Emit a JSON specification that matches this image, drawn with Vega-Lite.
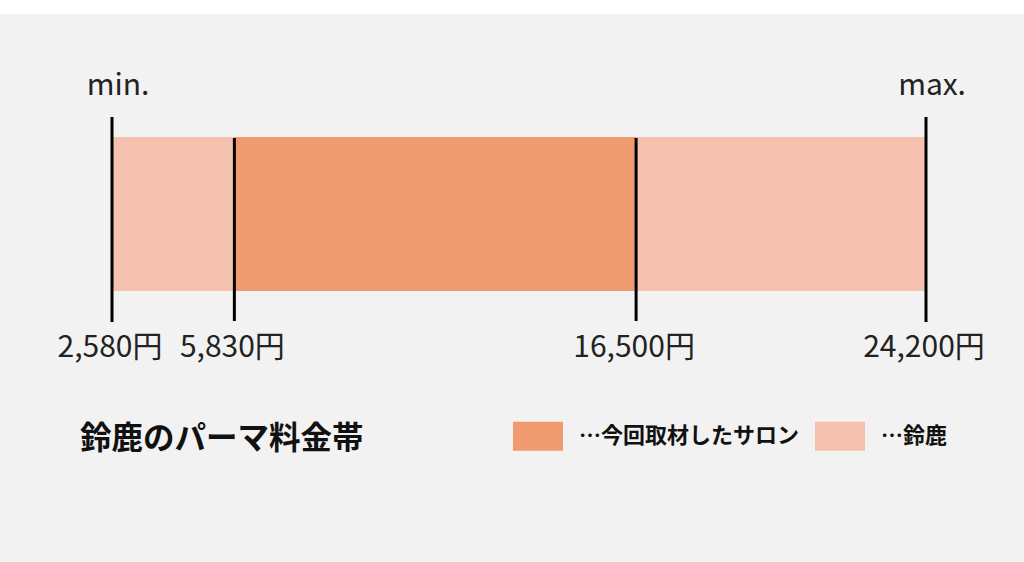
{
  "$schema": "https://vega.github.io/schema/vega-lite/v6.json",
  "width": 1024,
  "height": 562,
  "autosize": {"type": "fit", "contains": "padding"},
  "padding": {"top": 14, "left": 0, "right": 0, "bottom": 0},
  "background": "#ffffff",
  "config": {"view": {"fill": "#f2f2f2", "stroke": null}, "font": "Noto Sans CJK JP"},
  "datasets": {
    "segments": [
      {"from": 2580, "to": 5830, "group": "鈴鹿"},
      {"from": 5830, "to": 16500, "group": "今回取材したサロン"},
      {"from": 16500, "to": 24200, "group": "鈴鹿"}
    ],
    "markers": [
      {"price": 2580, "label": "2,580円", "kind": "outer", "end": "min."},
      {"price": 5830, "label": "5,830円", "kind": "inner", "end": ""},
      {"price": 16500, "label": "16,500円", "kind": "inner", "end": ""},
      {"price": 24200, "label": "24,200円", "kind": "outer", "end": "max."}
    ],
    "heading": [
      {"title": "鈴鹿のパーマ料金帯"}
    ]
  },
  "layer": [
    {
      "data": {"name": "segments"},
      "mark": {"type": "rect"},
      "encoding": {
        "x": {"field": "from", "type": "quantitative", "scale": {"domain": [-395, 26803], "nice": false, "zero": false}, "axis": null},
        "x2": {"field": "to"},
        "y": {"datum": 123, "type": "quantitative", "scale": {"domain": [0, 548], "reverse": true, "nice": false, "zero": false}, "axis": null},
        "y2": {"datum": 277},
        "color": {
          "field": "group",
          "type": "nominal",
          "scale": {"domain": ["今回取材したサロン", "鈴鹿"], "range": ["#f09a70", "#f5c2af"]},
          "legend": {
            "orient": "none",
            "legendX": 513,
            "legendY": 397,
            "direction": "horizontal",
            "title": null,
            "symbolType": "M-1,-0.58H1V0.58H-1Z",
            "symbolSize": 2500,
            "symbolStrokeWidth": 0,
            "symbolOpacity": 1,
            "labelFontSize": 22,
            "labelFontWeight": "bold",
            "labelFont": "Noto Sans CJK JP",
            "labelColor": "#111111",
            "labelOffset": 16,
            "labelLimit": 0,
            "columnPadding": 15,
            "labelExpr": "'…' + datum.label"
          }
        }
      }
    },
    {
      "data": {"name": "markers"},
      "transform": [{"filter": "datum.kind == 'inner'"}],
      "mark": {"type": "rule", "color": "#000000", "strokeWidth": 3},
      "encoding": {
        "x": {"field": "price", "type": "quantitative"},
        "y": {"datum": 124, "type": "quantitative"},
        "y2": {"datum": 307}
      }
    },
    {
      "data": {"name": "markers"},
      "transform": [{"filter": "datum.kind == 'outer'"}],
      "mark": {"type": "rule", "color": "#000000", "strokeWidth": 3},
      "encoding": {
        "x": {"field": "price", "type": "quantitative"},
        "y": {"datum": 103, "type": "quantitative"},
        "y2": {"datum": 308}
      }
    },
    {
      "data": {"name": "markers"},
      "mark": {"type": "text", "align": "center", "baseline": "alphabetic", "fontSize": 30, "color": "#222222", "dx": -2},
      "encoding": {
        "x": {"field": "price", "type": "quantitative"},
        "y": {"datum": 343, "type": "quantitative"},
        "text": {"field": "label"}
      }
    },
    {
      "data": {"name": "markers"},
      "transform": [{"filter": "datum.kind == 'outer'"}],
      "mark": {"type": "text", "align": "center", "baseline": "alphabetic", "fontSize": 30, "color": "#222222", "dx": 6},
      "encoding": {
        "x": {"field": "price", "type": "quantitative"},
        "y": {"datum": 81, "type": "quantitative"},
        "text": {"field": "end"}
      }
    },
    {
      "data": {"name": "heading"},
      "mark": {"type": "text", "align": "left", "baseline": "middle", "fontSize": 31.5, "fontWeight": "bold", "color": "#111111"},
      "encoding": {
        "x": {"datum": 1730, "type": "quantitative"},
        "y": {"datum": 426, "type": "quantitative"},
        "text": {"field": "title"}
      }
    }
  ]
}
